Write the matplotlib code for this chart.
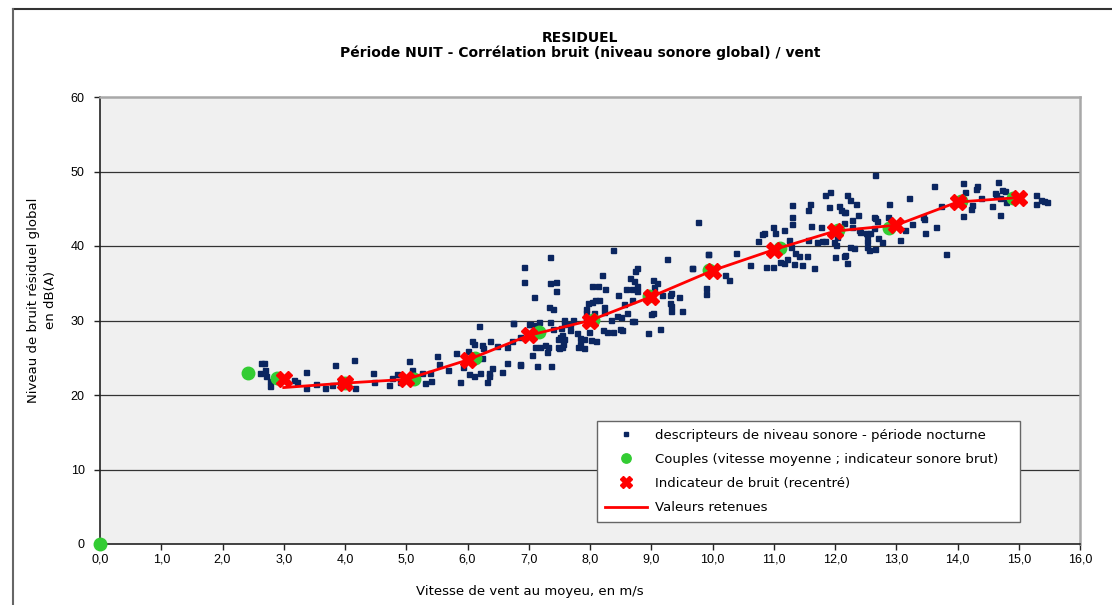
import matplotlib
matplotlib.use('Agg')
import matplotlib.pyplot as plt
from matplotlib.lines import Line2D

matplotlib.rcParams['font.family'] = "sans-serif"
matplotlib.rcParams['font.sans-serif'] = ["DejaVu Sans"]

# measured descriptors (wind speed m/s, noise level dB(A))
obs_wind = [
    2.63, 2.67, 2.61, 2.70, 2.71, 2.78, 2.77, 3.16, 3.21, 3.37, 3.37, 3.53, 3.68, 3.78, 3.84,
    3.92, 4.14, 4.17, 4.46, 4.48, 4.72, 4.76, 4.85, 4.90, 5.04, 5.09, 5.25, 5.31, 5.38, 5.41,
    5.50, 5.53, 5.68, 5.82, 5.87, 5.92, 6.01, 6.02, 6.07, 6.10, 6.11, 6.18, 6.20, 6.24, 6.24,
    6.26, 6.32, 6.35, 6.35, 6.40, 6.37, 6.48, 6.56, 6.64, 6.65, 6.72, 6.75, 6.86, 6.86, 7.00,
    7.35, 8.37, 6.92, 6.92, 7.35, 7.45, 7.44, 7.08, 8.19, 8.04, 8.13, 8.25, 8.77, 8.73, 8.66,
    8.72, 8.77, 8.58, 8.69, 8.77, 8.45, 8.14, 8.08, 8.04, 7.97, 8.23, 8.23, 7.94, 7.94, 8.06,
    7.94, 8.55, 8.69, 8.44, 8.51, 8.61, 8.69, 8.72, 8.35, 7.33, 7.40, 6.74, 7.02, 7.11, 7.16,
    7.34, 7.57, 7.72, 7.58, 7.67, 7.40, 7.52, 7.68, 7.55, 7.51, 7.47, 7.57, 7.56, 7.49, 7.55,
    7.79, 7.84, 7.83, 7.81, 7.90, 7.98, 7.90, 8.01, 8.09, 8.21, 8.28, 8.37, 8.49, 8.52, 8.95,
    7.11, 7.19, 7.26, 7.32, 7.10, 7.30, 7.47, 7.06, 7.14, 7.37, 6.86,
    9.25, 9.66, 9.93, 9.03, 9.09, 9.04, 9.33, 9.30, 9.45, 9.18, 9.30, 9.32, 9.32, 9.51, 9.03,
    8.99, 9.14, 9.89, 9.90, 10.21, 10.27,
    9.77, 12.65, 9.92, 9.67, 10.38, 10.62, 10.75, 10.81, 10.84, 10.99, 11.02, 10.88, 10.99, 11.10,
    11.16, 11.21, 11.16, 11.25, 11.29, 11.29, 11.29, 11.28, 11.35, 11.42, 11.33, 11.46, 11.54,
    11.66, 11.56, 11.59, 11.56, 11.60, 11.77, 11.71, 11.79, 11.83, 11.83, 11.92, 11.90, 11.98,
    12.02, 12.04, 12.00, 12.15, 12.17, 12.19, 12.07, 12.09, 12.14, 12.16, 12.20, 12.25, 12.34,
    12.15, 12.28, 12.37, 12.27, 12.39, 12.41, 12.50, 12.53, 12.57, 12.53, 12.63, 12.66, 12.69,
    12.63, 12.25, 12.31, 12.52, 12.56, 12.66, 12.70, 12.77, 12.88, 12.87, 13.06,
    13.21, 13.61, 13.73, 13.26, 13.43, 13.46, 13.65, 13.47, 13.14, 13.81, 14.09, 14.12, 14.32,
    14.30, 14.66, 14.72, 14.77, 14.61, 14.63, 14.70, 14.38, 14.23, 14.22, 14.09, 14.57, 14.70,
    14.79, 15.28, 15.28, 15.37, 15.42, 15.46,
]
obs_level = [
    24.3, 24.3, 23.0, 23.4, 22.5, 21.9, 21.2, 22.0, 21.8, 23.1, 20.9, 21.5, 20.9, 21.4, 24.0,
    21.6, 24.7, 21.0, 23.0, 21.7, 21.4, 22.3, 22.8, 21.8, 24.6, 23.4, 22.9, 21.6, 23.0, 21.9,
    25.2, 24.1, 23.4, 25.7, 21.7, 23.7, 25.9, 22.8, 27.2, 26.9, 22.6, 29.3, 23.0, 26.7, 25.0,
    26.3, 21.8, 22.9, 22.6, 23.6, 27.2, 26.6, 23.1, 26.5, 24.3, 27.3, 29.7, 24.1, 27.8, 29.5,
    38.5, 39.4, 37.2, 35.2, 35.0, 35.2, 33.9, 33.2, 36.1, 34.6, 34.6, 34.2, 37.1, 36.7, 35.7,
    35.3, 34.6, 34.2, 34.2, 33.9, 33.4, 32.8, 32.8, 32.5, 32.3, 31.8, 31.2, 31.5, 31.0, 31.0,
    30.3, 32.2, 32.7, 30.6, 30.5, 31.0, 30.0, 30.0, 30.1, 31.8, 31.6, 29.7, 29.5, 29.4, 29.8,
    29.8, 30.1, 30.1, 29.5, 29.5, 28.8, 29.0, 28.7, 28.1, 27.8, 27.5, 27.5, 26.9, 26.3, 26.4,
    28.3, 27.7, 26.9, 26.5, 27.5, 28.4, 26.3, 27.4, 27.2, 28.7, 28.5, 28.4, 28.8, 28.7, 28.3,
    28.6, 26.5, 26.7, 26.4, 26.4, 25.8, 26.4, 25.4, 23.9, 23.9, 24.0,
    38.3, 37.1, 38.9, 35.4, 35.1, 34.5, 33.7, 33.4, 33.1, 33.4, 32.4, 31.9, 31.3, 31.3, 31.0,
    30.9, 28.8, 34.3, 33.6, 36.1, 35.5,
    43.2, 49.5, 38.9, 37.1, 39.0, 37.5, 40.7, 41.6, 41.8, 42.5, 41.8, 37.2, 37.2, 37.8,
    37.7, 38.2, 42.1, 40.8, 45.5, 43.9, 43.0, 39.8, 39.1, 38.6, 37.6, 37.5, 38.7,
    37.1, 40.8, 45.6, 44.8, 42.7, 42.6, 40.6, 40.7, 40.7, 46.9, 47.2, 45.2, 40.6,
    40.1, 41.2, 38.5, 38.7, 38.8, 37.7, 45.4, 44.8, 44.6, 44.6, 46.8, 46.2, 45.7,
    43.1, 43.5, 44.2, 42.5, 42.1, 41.9, 41.7, 41.5, 41.7, 40.7, 43.9, 43.7, 43.3,
    42.4, 39.8, 39.7, 39.8, 39.4, 39.6, 41.1, 40.6, 45.6, 43.9, 40.8,
    46.5, 48.1, 45.4, 42.9, 43.9, 43.6, 42.5, 41.8, 42.1, 38.9, 48.5, 47.2, 48.0,
    47.7, 48.6, 47.5, 47.4, 47.1, 46.9, 46.5, 46.4, 45.5, 45.0, 44.0, 45.4, 44.2,
    45.9, 46.9, 45.6, 46.2, 46.0, 45.9,
]

# couples (mean speed ; raw indicator)
couple_wind = [0.0, 2.42, 2.89, 4.0, 5.12, 6.13, 7.16, 8.05, 8.97, 9.95, 11.1, 12.05, 12.88, 14.05, 14.9]
couple_level = [0.0, 22.9, 22.3, 21.6, 22.1, 24.9, 28.4, 30.1, 33.3, 36.8, 39.7, 42.1, 42.4, 46.0, 46.4]

# recentred indicator
ind_wind = [3, 4, 5, 6, 7, 8, 9, 10, 11, 12, 13, 14, 15]
ind_level = [22.2, 21.65, 22.1, 24.7, 28.0, 30.0, 33.2, 36.7, 39.5, 42.0, 42.8, 45.9, 46.5]

# retained values
ret_level = [21.0, 21.6, 22.1, 24.7, 28.0, 30.0, 33.2, 36.7, 39.5, 42.0, 42.8, 45.9, 46.5]

fig = plt.figure(figsize=(11.12, 6.05), dpi=100)
ax = fig.add_axes([100 / 1112, 61 / 605, 980 / 1112, 447 / 605])
ax.set_facecolor('#F0F0F0')

for lvl in [10, 20, 30, 40, 50]:
    ax.axhline(lvl, color='#333333', lw=0.9, zorder=1)

ax.plot(obs_wind, obs_level, 's', color='#0B2660', ms=3.6, ls='none', zorder=3,
        label='descripteurs de niveau sonore - période nocturne')
ax.plot(couple_wind, couple_level, 'o', color='#33CC33', ms=9, ls='none', zorder=4, clip_on=False,
        label='Couples (vitesse moyenne ; indicateur sonore brut)')
ax.plot(ind_wind, ret_level, '-', color='#FF0000', lw=2, zorder=5, label='Valeurs retenues')
ax.plot(ind_wind, ind_level, 'X', color='#FF0000', ms=12, mec='#FF0000', ls='none', zorder=6,
        label='Indicateur de bruit (recentré)')

ax.set_xlim(0, 16)
ax.set_ylim(0, 60)
ax.set_xticks(range(17))
ax.set_xticklabels(['%d,0' % v for v in range(17)], fontsize=9, family='Liberation Sans')
ax.set_yticks(range(0, 61, 10))
ax.set_yticklabels([str(v) for v in range(0, 61, 10)], fontsize=9, family='Liberation Sans')
ax.tick_params(direction='out', length=4, width=1, color='#222222', pad=3)
ax.tick_params(axis='y', pad=7)

for s in ['left', 'bottom']:
    ax.spines[s].set_color('#222222')
    ax.spines[s].set_linewidth(1.2)
for s in ['top', 'right']:
    ax.spines[s].set_color('#A8A8A8')
    ax.spines[s].set_linewidth(1.8)

handles, labels = ax.get_legend_handles_labels()
order = [0, 1, 3, 2]
leg = ax.legend([handles[i] for i in order], [labels[i] for i in order],
                loc='upper left', mode='expand',
                bbox_to_anchor=(590 / 1112, 1 - 524 / 605, 437 / 1112, 110 / 605),
                bbox_transform=fig.transFigure, fontsize=9.5, frameon=True, fancybox=False,
                edgecolor='#666666', framealpha=1, handlelength=3.2, handletextpad=0.6,
                labelspacing=0.85, borderpad=0.6, markerscale=0.75)
leg.get_frame().set_linewidth(1.0)

fig.text(580 / 1112, 1 - 38 / 605, 'RESIDUEL', ha='center', va='center', fontsize=10, fontweight='bold')
fig.text(580 / 1112, 1 - 53 / 605, 'Période NUIT - Corrélation bruit (niveau sonore global) / vent',
         ha='center', va='center', fontsize=10, fontweight='bold')
fig.text(530 / 1112, 1 - 591 / 605, 'Vitesse de vent au moyeu, en m/s', ha='center', va='center', fontsize=9.5)
fig.text(42 / 1112, 1 - 300 / 605, 'Niveau de bruit résiduel global\nen dB(A)', ha='center', va='center',
         rotation=90, fontsize=9.5, linespacing=1.4)

# outer chart frame
fig.add_artist(Line2D([13 / 1112, 1], [1 - 9 / 605, 1 - 9 / 605], color='#333333', lw=1.5))
fig.add_artist(Line2D([13 / 1112, 13 / 1112], [0, 1 - 9 / 605], color='#666666', lw=1.5))

fig.savefig('out.png', dpi=100)
